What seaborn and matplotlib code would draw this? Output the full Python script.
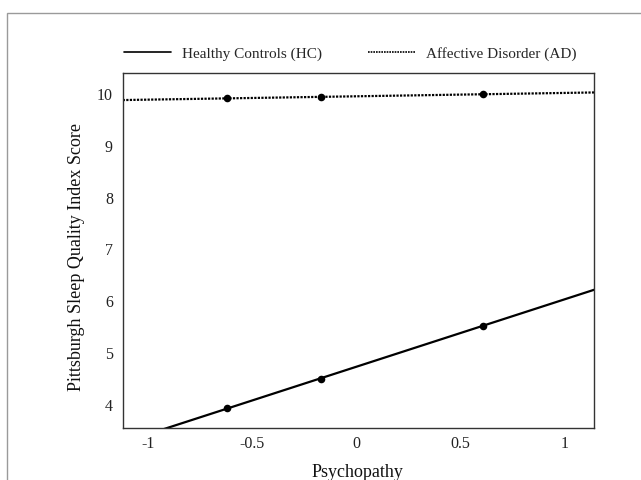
import numpy as np
import pandas as pd
import matplotlib
matplotlib.use("Agg")
import matplotlib.pyplot as plt
import seaborn as sns
from matplotlib.lines import Line2D
from matplotlib.patches import Rectangle

# Data
psychopathy = [-0.62, -0.17, 0.61]
hc_scores = [3.93, 4.50, 5.53]
ad_scores = [9.92, 9.95, 10.00]
groups = ["Healthy Controls (HC)", "Affective Disorder (AD)"]
x_ticks = [-1, -0.5, 0, 0.5, 1]
x_tick_labels = ["-1", "-0.5", "0", "0.5", "1"]
y_ticks = [4, 5, 6, 7, 8, 9, 10]

sns.set_theme(style="white")
plt.rcParams["font.family"] = ["Liberation Serif", "DejaVu Serif"]

XLIM = (-1.12, 1.143)
YLIM = (3.556, 10.405)

fig = plt.figure(figsize=(6.41, 4.8), dpi=100)
ax = fig.add_axes([122.7/641, 1-427.7/480, (594-122.7)/641, (427.7-73.3)/480])
ax.set_xlim(*XLIM)
ax.set_ylim(*YLIM)

hc = pd.DataFrame({"x": psychopathy, "y": hc_scores})
ad = pd.DataFrame({"x": psychopathy, "y": ad_scores})

sns.regplot(data=hc, x="x", y="y", ax=ax, ci=None, truncate=False,
            color="black", scatter_kws=dict(s=30, alpha=1, linewidths=0, zorder=3),
            line_kws=dict(lw=1.6, ls="-"))
sns.regplot(data=ad, x="x", y="y", ax=ax, ci=None, truncate=False,
            color="black", scatter_kws=dict(s=30, alpha=1, linewidths=0, zorder=3),
            line_kws=dict(lw=1.6, ls=(0, (1, 0.6))))
ax.set_xlim(*XLIM)
ax.set_ylim(*YLIM)

ax.set_xticks(x_ticks)
ax.set_xticklabels(x_tick_labels)
ax.set_yticks(y_ticks)
ax.set_yticklabels([str(v) for v in y_ticks])
ax.tick_params(axis="both", length=0, labelsize=11.5, colors="#222222")
ax.tick_params(axis="y", pad=7)
ax.tick_params(axis="x", pad=6)
for s in ax.spines.values():
    s.set_color("#333333")
    s.set_linewidth(1.0)
    s.set_visible(True)

ax.set_xlabel("Psychopathy", fontsize=13, color="#111111", va="center")
ax.xaxis.set_label_coords(0.499, -0.126)
ax.set_ylabel("Pittsburgh Sleep Quality Index Score", fontsize=13, color="#111111", va="center")
ax.yaxis.set_label_coords(-0.097, 0.483)

handles = [Line2D([], [], color="black", lw=1.2, ls="-"),
           Line2D([], [], color="black", lw=1.2, ls=(0, (1, 0.6)))]
fig.legend(handles, groups, loc="center", bbox_to_anchor=(350/641, 1-54/480),
           ncol=2, frameon=False, fontsize=11, handlelength=3.1, columnspacing=3.0,
           handletextpad=0.7, borderpad=0)

fig.add_artist(Rectangle((6.5/641, -0.1), 1.2, 1.1 - 12.7/480, transform=fig.transFigure,
                         fill=False, edgecolor="#9a9a9a", lw=1.0))

fig.savefig("out.png", dpi=100)
